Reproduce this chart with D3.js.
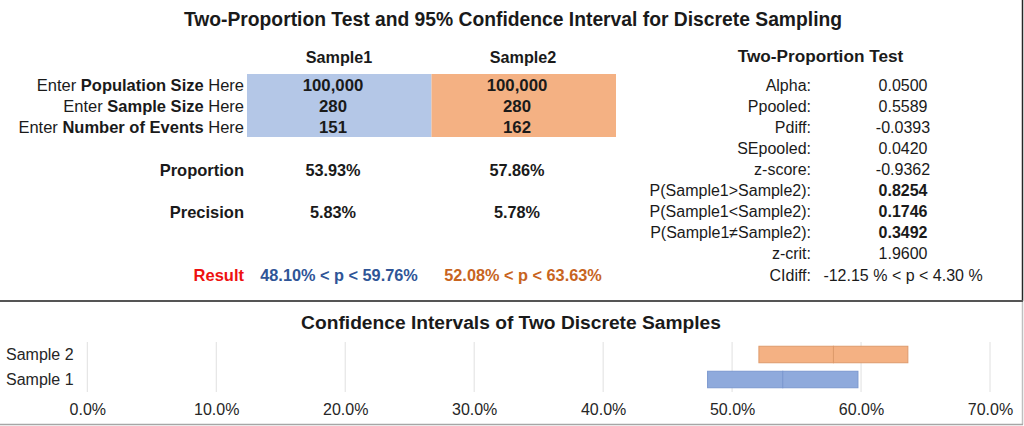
<!DOCTYPE html>
<html>
<head>
<meta charset="utf-8">
<script src="https://cdn.jsdelivr.net/npm/d3@7"></script>
<style>
  html, body { margin: 0; padding: 0; background: #ffffff; }
  svg { display: block; font-family: "Liberation Sans", Arial, sans-serif; }
</style>
</head>
<body>
<svg id="chart" width="1024" height="426"></svg>
<script>
// ---------- data ----------
const mainTitle = "Two-Proportion Test and 95% Confidence Interval for Discrete Sampling";
const sampleNames = ["Sample1", "Sample2"];
const inputLabels = [
  ["Enter ", "Population Size", " Here"],
  ["Enter ", "Sample Size", " Here"],
  ["Enter ", "Number of Events", " Here"]
];
const sample1Inputs = ["100,000", "280", "151"];
const sample2Inputs = ["100,000", "280", "162"];
const proportionText = ["53.93%", "57.86%"];
const precisionText = ["5.83%", "5.78%"];
const resultText = ["48.10% < p < 59.76%", "52.08% < p < 63.63%"];

const testTitle = "Two-Proportion Test";
const testLabels = ["Alpha:", "Ppooled:", "Pdiff:", "SEpooled:", "z-score:",
  "P(Sample1>Sample2):", "P(Sample1<Sample2):", "P(Sample1\u2260Sample2):", "z-crit:", "CIdiff:"];
const testValues = ["0.0500", "0.5589", "-0.0393", "0.0420", "-0.9362",
  "0.8254", "0.1746", "0.3492", "1.9600", "-12.15 % < p < 4.30 %"];
const testBold = [false, false, false, false, false, true, true, true, false, false];

const chartTitle = "Confidence Intervals of Two Discrete Samples";
const categories = ["Sample 2", "Sample 1"];
const lowerBound = [52.08, 48.10];
const proportion = [57.86, 53.93];
const upperBound = [63.63, 59.76];
const xTicks = [0, 10, 20, 30, 40, 50, 60, 70];

// ---------- styles ----------
const blueCell = "#B4C7E7", orangeCell = "#F4B183";
const blueBar = "#8FAADC", orangeBar = "#F4B183";
const blueStroke = "#7B98CF", orangeStroke = "#DE9A6C";
const textCol = "#1a1a1a";

const svg = d3.select("#chart");

// ---------- top section ----------
svg.append("text").attr("x", 513).attr("y", 19).attr("dy", "0.35em")
  .attr("text-anchor", "middle").attr("font-size", 19.3).attr("font-weight", "bold")
  .attr("fill", textCol).text(mainTitle);

const headerX = [339, 523];
const valueX = [333, 517];
const rowY = d3.scaleLinear().domain([0, 1]).range([85, 106.1]);

// cells
const cellX = d3.scaleBand().domain(sampleNames).range([247, 616]);
svg.selectAll("rect.cell").data(sampleNames).join("rect")
  .attr("x", d => cellX(d)).attr("y", 74)
  .attr("width", cellX.bandwidth()).attr("height", 63)
  .attr("fill", (d, i) => i === 0 ? blueCell : orangeCell);

svg.selectAll("text.hdr").data(sampleNames).join("text")
  .attr("x", (d, i) => headerX[i]).attr("y", 57).attr("dy", "0.35em")
  .attr("text-anchor", "middle").attr("font-size", 16.2).attr("font-weight", "bold")
  .attr("fill", textCol).text(d => d);

// input labels
const lab = svg.selectAll("text.inlab").data(inputLabels).join("text")
  .attr("x", 244).attr("y", (d, i) => rowY(i)).attr("dy", "0.35em")
  .attr("text-anchor", "end").attr("font-size", 16.5).attr("fill", textCol);
lab.each(function(d) {
  const t = d3.select(this);
  d.forEach((part, j) => t.append("tspan").attr("font-weight", j === 1 ? "bold" : "normal").text(part));
});

[sample1Inputs, sample2Inputs].forEach((vals, c) => {
  svg.selectAll("text.inval" + c).data(vals).join("text")
    .attr("x", valueX[c]).attr("y", (d, i) => rowY(i)).attr("dy", "0.35em")
    .attr("text-anchor", "middle").attr("font-size", 16.8).attr("font-weight", "bold")
    .attr("fill", textCol).text(d => d);
});

// proportion / precision / result
const statRows = [
  { label: "Proportion", y: 170, vals: proportionText, x: valueX, colors: [textCol, textCol], lc: textCol },
  { label: "Precision", y: 212, vals: precisionText, x: valueX, colors: [textCol, textCol], lc: textCol },
  { label: "Result", y: 275.5, vals: resultText, x: headerX, colors: ["#2F5597", "#C8641E"], lc: "#EE1111" }
];
statRows.forEach(r => {
  svg.append("text").attr("x", 244).attr("y", r.y).attr("dy", "0.35em")
    .attr("text-anchor", "end").attr("font-size", 16.5).attr("font-weight", "bold")
    .attr("fill", r.lc).text(r.label);
  r.vals.forEach((v, i) => {
    svg.append("text").attr("x", r.x[i]).attr("y", r.y).attr("dy", "0.35em")
      .attr("text-anchor", "middle").attr("font-size", 16.3).attr("font-weight", "bold")
      .attr("fill", r.colors[i]).text(v);
  });
});

// two-proportion test table
svg.append("text").attr("x", 820.5).attr("y", 56).attr("dy", "0.35em")
  .attr("text-anchor", "middle").attr("font-size", 17.2).attr("font-weight", "bold")
  .attr("fill", textCol).text(testTitle);
svg.selectAll("text.tlab").data(testLabels).join("text")
  .attr("x", 811).attr("y", (d, i) => rowY(i)).attr("dy", "0.35em")
  .attr("text-anchor", "end").attr("font-size", 16).attr("fill", textCol).text(d => d);
svg.selectAll("text.tval").data(testValues).join("text")
  .attr("x", 903).attr("y", (d, i) => rowY(i)).attr("dy", "0.35em")
  .attr("text-anchor", "middle").attr("font-size", 16)
  .attr("font-weight", (d, i) => testBold[i] ? "bold" : "normal")
  .attr("fill", textCol).text(d => d);

// section borders
svg.append("line").attr("x1", 1022.5).attr("x2", 1022.5).attr("y1", 0).attr("y2", 301)
  .attr("stroke", "#262626").attr("stroke-width", 1.5);
svg.append("line").attr("x1", 1022.5).attr("x2", 1022.5).attr("y1", 301).attr("y2", 424.5)
  .attr("stroke", "#bfbfbf").attr("stroke-width", 1.5);
svg.append("line").attr("x1", 0).attr("x2", 1023).attr("y1", 424.5).attr("y2", 424.5)
  .attr("stroke", "#a6a6a6").attr("stroke-width", 1.5);
svg.append("line").attr("x1", 0).attr("x2", 1023).attr("y1", 301).attr("y2", 301)
  .attr("stroke", "#555555").attr("stroke-width", 2);

// ---------- bottom chart ----------
svg.append("text").attr("x", 511).attr("y", 322).attr("dy", "0.35em")
  .attr("text-anchor", "middle").attr("font-size", 19.2).attr("font-weight", "bold")
  .attr("fill", textCol).text(chartTitle);

const x = d3.scaleLinear().domain([0, 70]).range([87.3, 990]);
const y = d3.scaleBand().domain(categories).range([342, 392]).paddingInner(0.34).paddingOuter(0.17);

// gridlines
svg.append("g").selectAll("line").data(xTicks).join("line")
  .attr("x1", d => x(d)).attr("x2", d => x(d)).attr("y1", 342).attr("y2", 392)
  .attr("stroke", "#e0e0e0").attr("stroke-width", 1);

// x axis labels
const xAxis = svg.append("g").attr("transform", "translate(0,404)")
  .call(d3.axisBottom(x).tickValues(xTicks).tickSize(0).tickPadding(0)
    .tickFormat(d => d.toFixed(1) + "%"));
xAxis.select(".domain").remove();
xAxis.selectAll("text").attr("font-size", 16).attr("font-family", "Liberation Sans, Arial, sans-serif")
  .attr("fill", "#262626").attr("dy", "0.71em").attr("y", 0);

// y labels
svg.selectAll("text.ylab").data(categories).join("text")
  .attr("x", 6).attr("y", d => y(d) + y.bandwidth() / 2).attr("dy", "0.35em")
  .attr("font-size", 16).attr("fill", "#262626").text(d => d);

// stacked interval bars: lower -> proportion, proportion -> upper
const segments = [];
categories.forEach((c, i) => {
  segments.push({ cat: c, from: lowerBound[i], to: proportion[i], idx: i });
  segments.push({ cat: c, from: proportion[i], to: upperBound[i], idx: i });
});
svg.append("g").selectAll("rect").data(segments).join("rect")
  .attr("x", d => x(d.from)).attr("y", d => y(d.cat))
  .attr("width", d => x(d.to) - x(d.from)).attr("height", y.bandwidth())
  .attr("fill", d => d.cat === "Sample 2" ? orangeBar : blueBar)
  .attr("stroke", d => d.cat === "Sample 2" ? orangeStroke : blueStroke)
  .attr("stroke-width", 1);
</script>
</body>
</html>
